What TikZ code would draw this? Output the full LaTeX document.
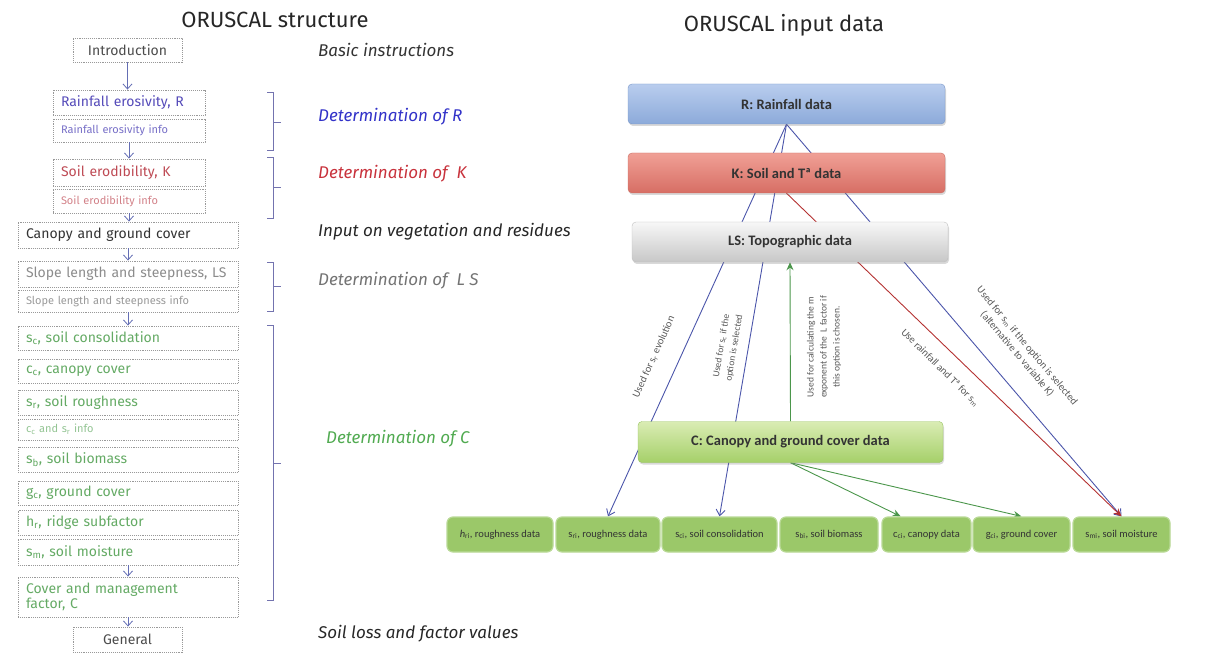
\documentclass[tikz,border=0pt]{standalone}
\usepackage{fontspec}
\setmainfont{Fira Sans}
\newfontfamily\calfont{Carlito}
\usepackage{xcolor}
\usepackage{tikz}
\usetikzlibrary{arrows.meta,backgrounds,shadows,positioning}
\definecolor{flowblue}{RGB}{100,110,180}
\definecolor{brakblue}{RGB}{115,115,175}
\definecolor{linkblue}{RGB}{75,85,170}
\definecolor{linkred}{RGB}{180,50,50}
\definecolor{linkgreen}{RGB}{75,150,75}
\definecolor{rtext}{RGB}{85,75,185}
\definecolor{ktext}{RGB}{190,75,85}
\definecolor{ctext}{RGB}{100,170,100}
\definecolor{leafgreen}{RGB}{155,200,105}
\tikzset{
  sbox/.style    = {draw=black!40, densely dotted, line width=0.9pt,
                    inner xsep=8pt, inner ysep=1pt, align=left,
                    font=\fontsize{14}{15.5}\selectfont},
  widebox/.style = {sbox, text width=204pt},
  midbox/.style  = {sbox, text width=136pt},
  endbox/.style  = {sbox, text width=93pt, align=center},
  infobox/.style = {font=\fontsize{11}{12}\selectfont},
  flow/.style    = {-{Straight Barb[length=5pt,width=9pt]}, flowblue, line width=0.8pt},
  brak/.style    = {brakblue, line width=0.9pt},
  seclab/.style  = {anchor=west, inner xsep=0pt, font=\fontsize{17}{19}\selectfont\itshape},
  databox/.style = {rounded corners=4pt, minimum height=40pt, text=black!80,
                    font=\calfont\bfseries\fontsize{14.5}{16}\selectfont,
                    drop shadow={opacity=0.3, shadow xshift=1pt, shadow yshift=-2pt}},
  leafbox/.style = {rounded corners=6pt, fill=leafgreen, draw=leafgreen!70,
                    line width=1.2pt, minimum height=35pt, inner xsep=1pt,
                    text=black!80, font=\calfont\fontsize{10.5}{12}\selectfont},
  uses/.style    = {-{Straight Barb[length=6pt,width=9pt]}, linkblue, line width=0.9pt},
  usek/.style    = {-{Stealth[length=8pt,width=7pt]}, linkred, line width=0.9pt},
  usec/.style    = {-{Stealth[length=8pt,width=7pt]}, linkgreen, line width=0.9pt},
  uselab/.style  = {align=center, text=black!65, font=\calfont\fontsize{9.5}{13}\selectfont},
  biglab/.style  = {uselab, font=\calfont\fontsize{10.5}{13}\selectfont},
}

\begin{document}
\begin{tikzpicture}[x=1pt, y=-1pt]
\useasboundingbox (0,0) rectangle (1211,655);
\node[font=\fontsize{22}{26}\selectfont, text=black!85] (t1) at (275,20) {ORUSCAL structure};
\node[font=\fontsize{22}{26}\selectfont, text=black!85] (t2) at (784,25) {ORUSCAL input data};

\node[endbox, minimum height=24pt, text=black!70] (i1) at (127.5,50) {Introduction};
\node[midbox, minimum height=25pt, text=rtext] (r1) at (129,102.5) {Rainfall erosivity, R};
\node[midbox, infobox, minimum height=23pt, text=rtext!80] (r2) at (129,130.5) {Rainfall erosivity info};
\node[midbox, minimum height=27pt, text=ktext] (k1) at (129,172.5) {Soil erodibility, K};
\node[midbox, infobox, minimum height=24pt, text=ktext!70] (k2) at (129,201) {Soil erodibility info};
\node[widebox, minimum height=26pt, text=black!80] (g1) at (128,235) {Canopy and ground cover};
\node[widebox, minimum height=26pt, text=black!45] (l1) at (128,274) {Slope length and steepness, LS};
\node[widebox, infobox, minimum height=22pt, text=black!40] (l2) at (128,301) {Slope length and steepness info};
\node[widebox, minimum height=24pt, text=ctext] (c1) at (128,338) {s\textsubscript{c}, soil consolidation};
\node[widebox, minimum height=24pt, text=ctext] (c2) at (128,371) {c\textsubscript{c}, canopy cover};
\node[widebox, minimum height=25pt, text=ctext] (c3) at (128,402.5) {s\textsubscript{r}, soil roughness};
\node[widebox, infobox, minimum height=21pt, text=ctext!70] (c4) at (128,429.5) {c\textsubscript{c} and s\textsubscript{r} info};
\node[widebox, minimum height=25pt, text=ctext] (c5) at (128,459.5) {s\textsubscript{b}, soil biomass};
\node[widebox, minimum height=24pt, text=ctext] (c6) at (128,493) {g\textsubscript{c}, ground cover};
\node[widebox, minimum height=25pt, text=ctext] (c7) at (128,522.5) {h\textsubscript{r}, ridge subfactor};
\node[widebox, minimum height=26pt, text=ctext] (c8) at (128,552) {s\textsubscript{m}, soil moisture};
\node[widebox, minimum height=40pt, text=ctext] (c9) at (128,597) {Cover and management\\factor, C};
\node[endbox, minimum height=25pt, text=black!70] (e1) at (127.5,639.5) {General};

\draw[flow] (i1.south) -- (i1.south |- r1.north);
\draw[flow] (r2.south) -- (r2.south |- k1.north);
\draw[flow] (k2.south) -- (k2.south |- g1.north);
\draw[flow] (g1.south) -- (l1.north);
\draw[flow] (l2.south) -- (c1.north);
\draw[flow] (c8.south) -- (c9.north);
\draw[flow] (c9.south) -- (c9.south |- e1.north);

\draw[brak] (267,92) -- (273,92) -- (273,150) -- (267,150) (273,122) -- (281,122);
\draw[brak] (267,157) -- (273,157) -- (273,218) -- (267,218) (273,187) -- (281,187);
\draw[brak] (267,262) -- (273,262) -- (273,311) -- (267,311) (273,286) -- (281,286);
\draw[brak] (267,325) -- (273,325) -- (273,600) -- (267,600) (273,463) -- (281,463);

\node[seclab, text=black!80] (s1) at (318,50) {Basic instructions};
\node[seclab, text={rgb,255:red,50;green,50;blue,200}] (s2) at (318,117) {Determination of R};
\node[seclab, text={rgb,255:red,200;green,50;blue,60}] (s3) at (318,174) {Determination of\ \ K};
\node[seclab, text=black!85] (s4) at (318,232) {Input on vegetation and residues};
\node[seclab, text=black!55] (s5) at (318,281) {Determination of\ \ L S};
\node[seclab, text={rgb,255:red,80;green,170;blue,80}] (s6) at (326,439) {Determination of C};
\node[seclab, text=black!85] (s7) at (318,634) {Soil loss and factor values};

\node[databox, minimum width=317pt, draw={rgb,255:red,120;green,150;blue,200},
      top color={rgb,255:red,185;green,205;blue,238}, bottom color={rgb,255:red,140;green,170;blue,218}]
      (rd) at (786.5,104) {R: Rainfall data};
\node[databox, minimum width=317pt, draw={rgb,255:red,200;green,110;blue,100},
      top color={rgb,255:red,240;green,160;blue,150}, bottom color={rgb,255:red,215;green,110;blue,100}]
      (kd) at (786.5,173) {K: Soil and Tª data};
\node[databox, minimum width=316pt, draw=black!25,
      top color=black!3, bottom color=black!22]
      (ld) at (790,242) {LS: Topographic data};
\node[databox, minimum width=305pt, minimum height=41pt, draw={rgb,255:red,150;green,195;blue,95},
      top color={rgb,255:red,218;green,236;blue,180}, bottom color={rgb,255:red,165;green,208;blue,105}]
      (cd) at (790.5,442) {C: Canopy and ground cover data};

\node[leafbox, minimum width=106pt] (hri) at (500,534.5) {\textit{h}\textsubscript{ri}, roughness data};
\node[leafbox, minimum width=104pt] (sri) at (608,534.5) {s\textsubscript{ri}, roughness data};
\node[leafbox, minimum width=115pt] (sci) at (719.5,534.5) {s\textsubscript{ci}, soil consolidation};
\node[leafbox, minimum width=98pt] (sbi) at (829,534.5) {s\textsubscript{bi}, soil biomass};
\node[leafbox, minimum width=89pt] (cci) at (926.5,534.5) {c\textsubscript{ci}, canopy data};
\node[leafbox, minimum width=97pt] (gci) at (1021.5,534.5) {g\textsubscript{ci}, ground cover};
\node[leafbox, minimum width=97pt] (smi) at (1121.5,534.5) {s\textsubscript{mi}, soil moisture};

\begin{scope}[on background layer]
  \draw[uses] (rd.south) -- (sri.north);
  \draw[uses] (rd.south) -- (sci.north);
  \draw[uses] (rd.south) -- (smi.north);
  \draw[usek] (kd.south) -- (smi.north);
  \draw[usec] (cd.north) -- (ld.south);
  \draw[usec] (cd.south) -- (cci.145);
  \draw[usec] (cd.south) -- (gci.north);
\end{scope}

\node[biglab, rotate=65.7] (u1) at (654,357) {Used for s\textsubscript{r} evolution};
\node[uselab, rotate=80.5] (u2) at (728,347) {Used for s\textsubscript{c} if the\\option is selected};
\node[uselab, rotate=90] (u3) at (824,347) {Used for calculating the m\\exponent of the\ \ L factor if\\this option is chosen.};
\node[biglab, rotate=-50] (u4) at (1022,350) {Used for s\textsubscript{m} if the option is selected\\(alternative to variable K)};
\node[biglab, rotate=-44.6] (u5) at (940,368) {Use rainfall and Tª for s\textsubscript{m}};
\end{tikzpicture}
\end{document}
